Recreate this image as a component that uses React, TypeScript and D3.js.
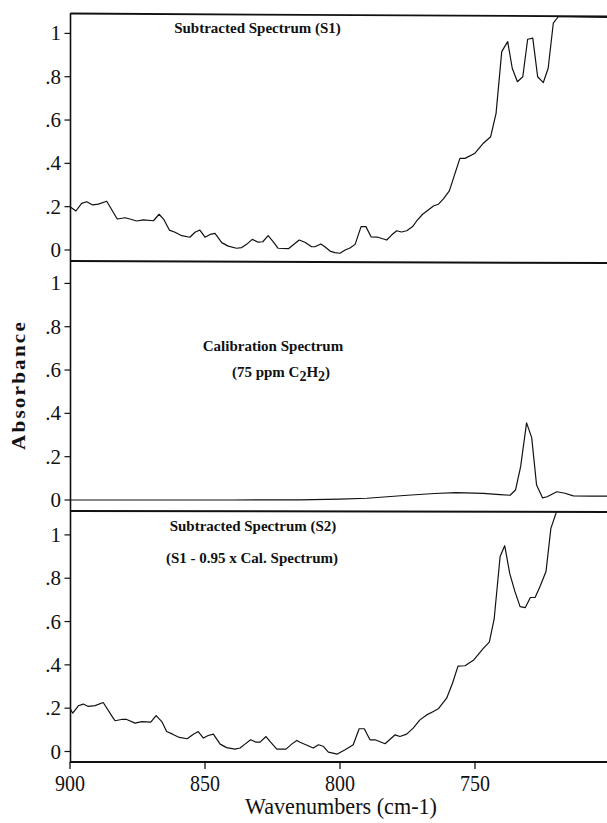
import React from "react";
import * as d3 from "d3";

// Subtracted spectrum S1: [wavenumber, absorbance]
const s1Data: [number, number][] = [
  [900, 0.2], [897.8, 0.18], [895.7, 0.215], [893.8, 0.223], [891.6, 0.208], [889.5, 0.212],
  [886.4, 0.225], [882.5, 0.143], [879.6, 0.149], [877.8, 0.143], [875.3, 0.134], [872.9, 0.139],
  [869.1, 0.135], [867.0, 0.165], [865.2, 0.14], [863.2, 0.092], [861.1, 0.082], [858.6, 0.066],
  [855.6, 0.059], [853.7, 0.082], [851.9, 0.092], [850.0, 0.059], [848.1, 0.072], [846.3, 0.077],
  [843.8, 0.034], [841.4, 0.018], [838.3, 0.008], [836.4, 0.011], [834.6, 0.026], [832.5, 0.049],
  [830.3, 0.036], [828.6, 0.038], [826.6, 0.066], [824.7, 0.038], [822.9, 0.008], [819.1, 0.006],
  [815.1, 0.046], [813.0, 0.036], [810.5, 0.015], [809.3, 0.015], [807.1, 0.028], [805.6, 0.015],
  [803.7, -0.005], [801.9, -0.012], [800.0, -0.015], [798.1, 0], [796.3, 0.009], [794.4, 0.026],
  [792.2, 0.108], [790.4, 0.108], [788.5, 0.061], [786.0, 0.059], [782.7, 0.046], [780.9, 0.069],
  [779.0, 0.089], [777.2, 0.083], [775.3, 0.089], [773.1, 0.108], [771.6, 0.134], [769.4, 0.165],
  [767.3, 0.185], [765.4, 0.203], [763.6, 0.211], [761.7, 0.236], [759.5, 0.273], [757.4, 0.354],
  [755.6, 0.423], [753.7, 0.423], [750.0, 0.447], [746.9, 0.493], [744.2, 0.523], [742.2, 0.631],
  [740.1, 0.916], [737.9, 0.962], [736.2, 0.839], [734.3, 0.777], [732.3, 0.8], [730.5, 0.973],
  [728.6, 0.978], [726.8, 0.8], [724.7, 0.773], [722.9, 0.839], [721.0, 1.047], [719.1, 1.078],
  [715, 1.077], [710, 1.076], [705, 1.075], [701, 1.074],
];

// Calibration spectrum (75 ppm C2H2)
const calData: [number, number][] = [
  [900, 0.0], [870, 0.0], [840, 0.0], [815, 0.001], [800, 0.004], [790, 0.008], [775, 0.022],
  [765, 0.03], [757, 0.034], [747, 0.031], [740.7, 0.025], [737, 0.022], [735, 0.046],
  [733.1, 0.154], [730.9, 0.356], [729, 0.288], [727.2, 0.069], [725, 0.01], [723.3, 0.015],
  [719.7, 0.038], [716.7, 0.031], [713.6, 0.019], [707, 0.018], [701, 0.018],
];

// Subtracted spectrum S2 (S1 - 0.95 x Cal.)
const s2Data: [number, number][] = [
  [900, 0.2], [899.0, 0.177], [896.9, 0.211], [895.1, 0.219], [893.2, 0.208], [890.7, 0.212],
  [887.7, 0.226], [884.0, 0.154], [883.3, 0.142], [880.5, 0.149], [879.0, 0.148], [875.9, 0.131],
  [873.4, 0.138], [870.1, 0.136], [868.1, 0.166], [866.0, 0.138], [864.2, 0.092], [862.0, 0.08],
  [859.5, 0.065], [856.6, 0.059], [854.3, 0.08], [852.5, 0.092], [850.6, 0.062], [848.8, 0.074],
  [846.9, 0.08], [844.4, 0.034], [842.0, 0.018], [838.9, 0.011], [837.0, 0.016], [835.2, 0.034],
  [833.1, 0.054], [831.1, 0.043], [829.6, 0.043], [827.4, 0.069], [825.7, 0.043], [823.4, 0.011],
  [820.0, 0.011], [817.9, 0.034], [816.0, 0.051], [814.8, 0.043], [809.9, 0.016], [808.0, 0.031],
  [806.2, 0.024], [804.3, -0.003], [801.0, -0.012], [798.1, 0.008], [795.1, 0.031], [792.9, 0.105],
  [791.0, 0.105], [788.9, 0.054], [787.0, 0.054], [783.3, 0.036], [779.6, 0.077], [777.8, 0.069],
  [775.3, 0.08], [772.9, 0.108], [770.4, 0.146], [767.9, 0.169], [765.4, 0.185], [763.6, 0.197],
  [760.5, 0.246], [758.3, 0.316], [756.3, 0.394], [753.7, 0.396], [750.6, 0.421], [747.0, 0.475],
  [744.7, 0.505], [742.9, 0.612], [740.7, 0.9], [739.0, 0.95], [737.1, 0.82], [735.2, 0.738],
  [733.3, 0.669], [731.4, 0.664], [729.5, 0.711], [727.7, 0.712], [725.8, 0.765], [723.7, 0.831],
  [721.9, 1.03], [720.0, 1.1], [719.0, 1.15],
];

const yTicks = [0, 0.2, 0.4, 0.6, 0.8, 1];
const yTickLabels = ["0", ".2", ".4", ".6", ".8", "1"];
const xTicks = [900, 850, 800, 750];
const xTickLabels = ["900", "850", "800", "750"];
const xDomain = [900, 700];

const W = 607;
const H = 823;
const axisX = 70.5;

// panel geometry (top, bottom, zero line)
const panels = [
  { top: 13.5, bottom: 261, zero: 250, data: s1Data },
  { top: 261, bottom: 511, zero: 500, data: calData },
  { top: 511, bottom: 762, zero: 751.5, data: s2Data },
];
const unitPx = 216.6;

export default function App() {
  const x = d3.scaleLinear().domain(xDomain).range([70, 610]);
  const serif = "'Liberation Serif', 'Times New Roman', serif";

  return (
    <svg
      width={W}
      height={H}
      viewBox={`0 0 ${W} ${H}`}
      style={{ position: "absolute", left: 0, top: 0, background: "#fff" }}
    >
      <rect x={0} y={0} width={W} height={H} fill="#fff" />
      <defs>
        {panels.map((p, i) => (
          <clipPath id={`clip${i}`} key={i}>
            <rect x={axisX} y={p.top + 1} width={W} height={p.bottom - p.top - 1} />
          </clipPath>
        ))}
      </defs>

      {panels.map((p, i) => {
        const y = d3.scaleLinear().domain([0, 1]).range([p.zero, p.zero - unitPx]);
        const line = d3
          .line<[number, number]>()
          .x((d) => x(d[0]))
          .y((d) => y(d[1]));
        return (
          <g key={i}>
            <path
              d={line(p.data) || ""}
              fill="none"
              stroke="#111"
              strokeWidth={1.2}
              strokeLinejoin="round"
              clipPath={`url(#clip${i})`}
            />
            {yTicks.map((t, j) => (
              <g key={j}>
                <line x1={axisX - 6} x2={axisX} y1={y(t)} y2={y(t)} stroke="#111" strokeWidth={1.2} />
                <text
                  x={61}
                  y={y(t) + 7}
                  textAnchor="end"
                  fontFamily={serif}
                  fontSize={21}
                  fill="#111"
                >
                  {yTickLabels[j]}
                </text>
              </g>
            ))}
          </g>
        );
      })}

      {/* frame lines */}
      <line x1={axisX} x2={W} y1={13.5} y2={16.5} stroke="#111" strokeWidth={1.8} />
      <line x1={axisX} x2={W} y1={261} y2={263} stroke="#111" strokeWidth={2} />
      <line x1={axisX} x2={W} y1={511} y2={512} stroke="#111" strokeWidth={2} />
      <line x1={axisX} x2={W} y1={762} y2={762} stroke="#111" strokeWidth={2} />
      <line x1={axisX} x2={axisX} y1={13} y2={763} stroke="#111" strokeWidth={1.6} />

      {/* x axis ticks */}
      {xTicks.map((t, j) => (
        <g key={j}>
          <line x1={x(t)} x2={x(t)} y1={762} y2={769} stroke="#111" strokeWidth={1.3} />
          <text
            x={x(t)}
            y={791}
            textAnchor="middle"
            fontFamily={serif}
            fontSize={24}
            textLength={30}
            lengthAdjust="spacingAndGlyphs"
            fill="#111"
          >
            {xTickLabels[j]}
          </text>
        </g>
      ))}
      <text
        x={341}
        y={814}
        textAnchor="middle"
        fontFamily={serif}
        fontSize={23}
        textLength={192}
        lengthAdjust="spacingAndGlyphs"
        fill="#111"
      >
        Wavenumbers (cm-1)
      </text>

      <text
        transform="translate(25,385) rotate(-90)"
        textAnchor="middle"
        fontFamily={serif}
        fontWeight="bold"
        fontSize={19}
        letterSpacing={2}
        textLength={130}
        lengthAdjust="spacingAndGlyphs"
        fill="#111"
      >
        Absorbance
      </text>

      {/* panel titles */}
      <g fontFamily={serif} fontWeight="bold" fontSize={15} fill="#111" textAnchor="middle">
        <text x={257.5} y={33}>Subtracted Spectrum (S1)</text>
        <text x={273} y={351}>Calibration Spectrum</text>
        <text x={281} y={377}>
          <tspan>(75 ppm C</tspan>
          <tspan dy={4} fontSize={14}>2</tspan>
          <tspan dy={-4}>H</tspan>
          <tspan dy={4} fontSize={14}>2</tspan>
          <tspan dy={-4}>)</tspan>
        </text>
        <text x={253} y={531}>Subtracted Spectrum (S2)</text>
        <text x={252} y={563}>(S1 - 0.95 x Cal. Spectrum)</text>
      </g>
    </svg>
  );
}
